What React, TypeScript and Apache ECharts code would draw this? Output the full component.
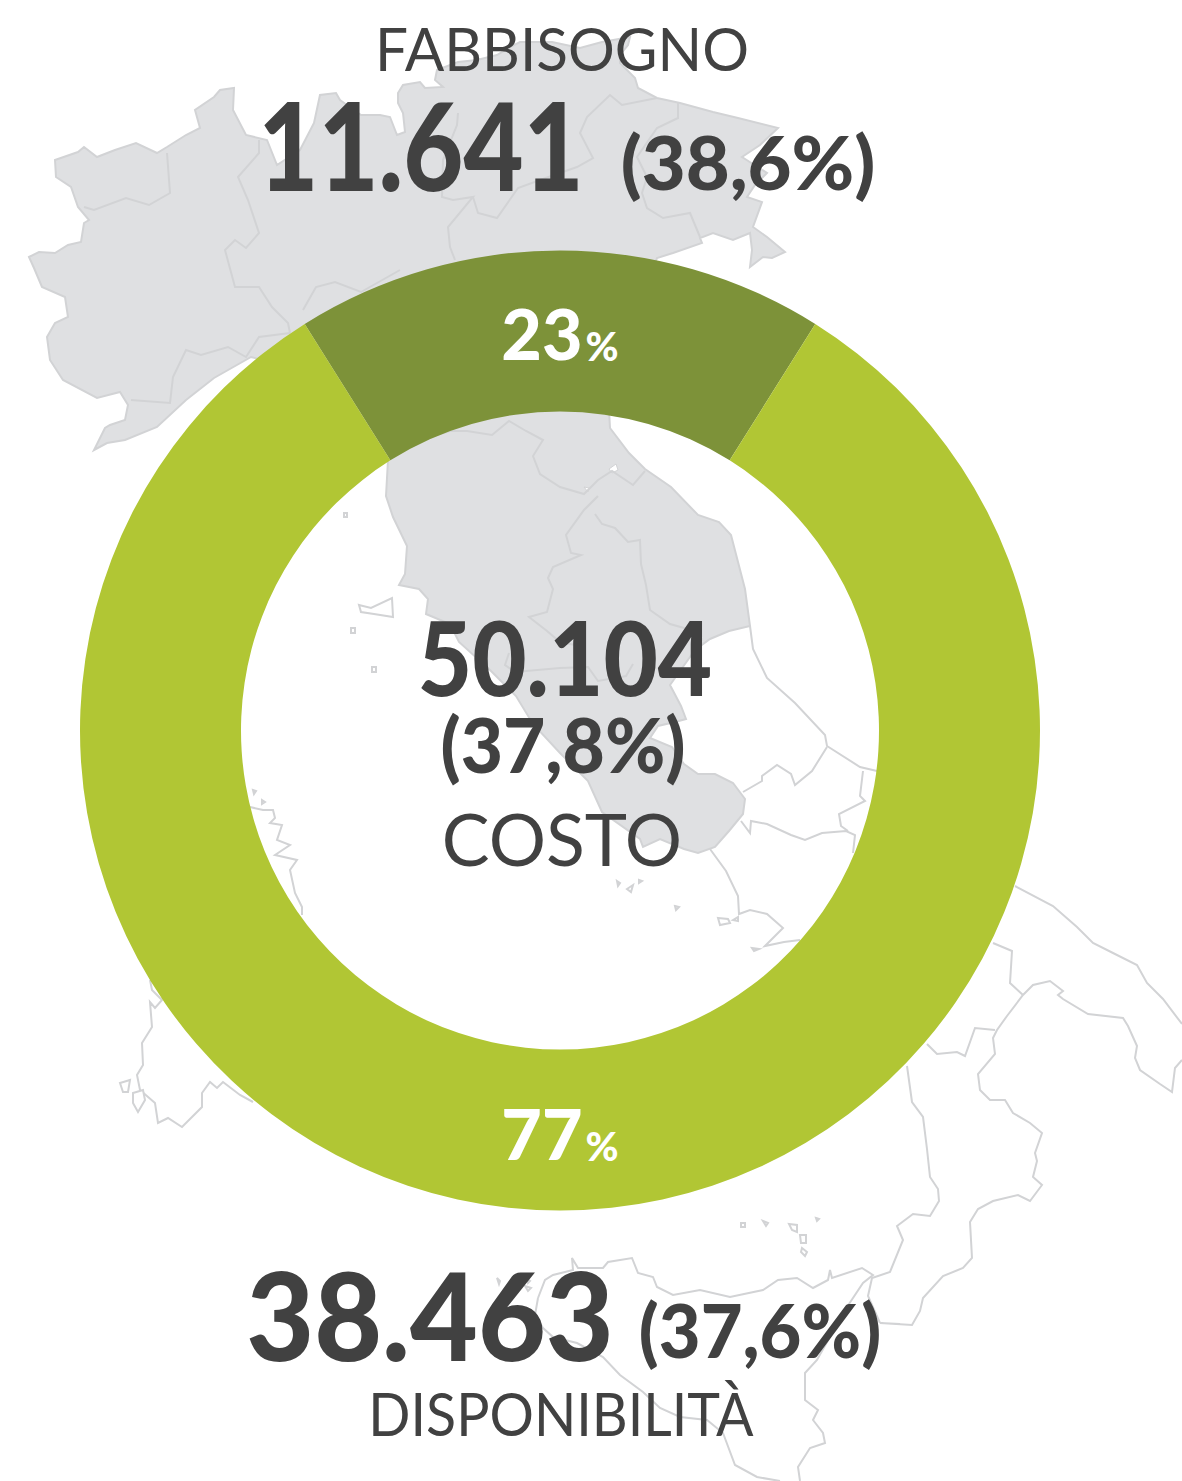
import React, { useEffect, useRef } from "react";
import * as echarts from "echarts";

// Values
const sliceNames = ["Fabbisogno", "Disponibilità"];
const sliceLabels = ["23", "77"];
// angular shares as drawn in the reference ring
const sliceShares = [17.85, 82.15];
const sliceColors = ["#7d9239", "#b1c634"];

const FONT = "Lato";
const INK = "#414141";
const LAND = "#dfe0e2";
const EDGE = "#d2d3d5";

type P = [number, number];

// Background map: shaded northern and central Italy
const mainland: P[] = [
  [29,257],[39,252],[55,253],[68,245],[81,242],[84,223],[89,220],[78,207],[71,187],[56,177],[55,160],[78,152],[84,147],[97,157],[115,150],[136,143],[157,153],[167,147],[186,135],[200,128],[195,110],[214,97],[220,90],[234,88],[233,110],[246,135],[267,140],[277,165],[300,150],[314,123],[320,95],[336,93],[340,100],[361,115],[380,115],[390,117],[397,135],[405,132],[403,113],[398,103],[398,93],[403,85],[420,82],[425,88],[443,87],[435,80],[437,70],[458,62],[477,60],[497,55],[510,47],[520,42],[552,42],[580,48],[602,42],[630,37],[628,45],[620,55],[620,63],[635,78],[638,88],[657,98],[680,103],[713,112],[738,118],[778,128],[760,145],[742,157],[767,173],[755,185],[747,197],[762,202],[753,227],[767,237],[785,252],[772,258],[763,257],[750,267],[752,250],[750,233],[733,240],[713,233],[700,238],[702,243],[673,253],[657,258],
  [640,300],[609,410],[610,428],[629,453],[645,469],[671,487],[698,515],[719,522],[731,535],[745,589],[750,626],[729,631],[710,639],[695,650],[670,685],[681,706],[686,719],[675,722],[658,726],[650,738],[672,747],[684,764],[698,774],[715,774],[733,783],[745,799],[743,814],[729,831],[715,847],[698,853],[684,849],[660,839],[643,847],[640,839],[602,812],[588,781],[560,753],[533,724],[516,696],[490,670],[459,642],[450,624],[426,614],[428,599],[419,589],[399,585],[405,574],[407,546],[393,517],[386,496],[388,460],
  [300,370],[251,357],[214,378],[186,400],[157,427],[125,440],[107,443],[94,450],[105,428],[110,425],[125,420],[128,405],[120,392],[97,398],[63,380],[50,360],[47,337],[55,323],[68,317],[65,297],[42,287],[34,268],
];

// Regional borders on the shaded part and outlines of the unshaded part
const mapLines: P[][] = [
  [[167,153],[170,193],[149,205],[126,198],[94,210],[84,207]],
  [[259,140],[259,153],[238,177],[248,200],[259,233],[246,248],[235,240],[225,250],[235,287],[259,287],[272,307],[288,323],[290,333]],
  [[290,333],[259,337],[246,357],[228,347],[201,355],[186,350],[173,377],[170,403],[131,400]],
  [[303,310],[316,287],[335,282],[361,292],[377,283],[400,270]],
  [[458,113],[457,125],[443,160],[442,197],[453,200],[473,197],[448,227],[450,247],[455,260]],
  [[473,197],[478,213],[497,218],[518,188],[540,180],[577,167],[593,158],[580,133],[587,117],[610,95],[622,105],[657,98]],
  [[678,103],[678,118],[657,128],[637,157],[647,177],[642,193],[647,208],[663,218],[690,213],[700,237]],
  [[430,437],[450,431],[467,431],[492,435],[509,421],[526,431],[543,440],[533,456],[540,474],[560,487],[584,494],[598,480],[612,471],[633,485],[645,471]],
  [[598,496],[584,510],[566,535],[571,553],[581,555],[553,567],[548,578],[553,589],[547,612],[529,617],[547,631],[560,642],[575,645]],
  [[595,514],[602,524],[615,528],[628,542],[640,540],[641,564],[646,585],[650,610],[670,624],[684,628],[700,640]],
  [[509,653],[505,665],[515,672],[560,668],[588,667],[598,681],[626,676],[633,664]],
  // Adriatic coast and Apulia
  [[750,626],[753,649],[767,678],[795,703],[825,735],[827,746],[860,767],[877,771]],
  [[1015,886],[1053,906],[1077,927],[1093,943],[1113,953],[1137,965],[1147,983],[1163,999],[1182,1024]],
  [[1182,1060],[1175,1068],[1172,1092],[1160,1084],[1140,1070],[1135,1058],[1137,1046],[1128,1026],[1123,1018],[1088,1014],[1063,999],[1058,995],[1063,991],[1050,981],[1033,985],[1023,995],[1007,1016],[997,1030],[993,1038],[995,1054],[978,1074],[980,1090],[990,1100],[1005,1100],[1013,1113],[1030,1123],[1042,1133],[1035,1153],[1037,1161],[1033,1177],[1042,1185],[1030,1201],[1018,1195],[993,1201],[978,1209],[970,1222],[972,1258],[963,1268],[943,1276],[923,1298],[920,1311],[912,1325],[880,1323],[900,1324]],
  [[880,1323],[868,1296],[872,1278],[890,1272],[903,1240],[897,1226],[913,1214],[930,1216],[939,1201],[938,1189],[930,1177],[927,1149],[923,1117],[912,1102],[907,1066]],
  [[927,1044],[937,1054],[957,1052],[965,1056],[975,1028],[995,1030]],
  [[993,943],[1012,951],[1010,983],[1023,995]],
  // Basilicata, Molise and Campania
  [[827,747],[812,771],[795,785],[791,774],[777,765],[762,776],[762,781],[743,792]],
  [[741,821],[750,833],[751,821],[767,824],[791,835],[805,840],[822,833],[846,831],[855,835],[853,853]],
  [[863,771],[860,796],[865,801],[839,814],[841,826],[848,831]],
  [[710,849],[726,871],[738,896],[739,914],[750,910],[767,914],[783,928],[765,946],[784,942],[800,940]],
  // Tuscan islands and Corsican fringe
  [[250,807],[263,810],[273,810],[275,818],[270,823],[282,825],[277,840],[290,845],[275,855],[297,860],[290,870],[295,893],[302,907],[302,915]],
  // Sardinia
  [[150,980],[152,990],[162,1000],[155,1008],[150,1002],[152,1027],[142,1043],[143,1065],[137,1075],[140,1090],[155,1103],[158,1123],[168,1118],[182,1127],[202,1107],[202,1093],[210,1082],[217,1088],[223,1082],[240,1095],[253,1102]],
  // Sicily
  [[538,1298],[545,1280],[553,1275],[573,1270],[572,1258],[578,1268],[603,1268],[608,1262],[632,1258],[638,1273],[653,1277],[657,1287],[673,1295],[700,1290],[730,1297],[763,1290],[778,1280],[797,1278],[813,1288],[828,1280],[830,1270],[832,1278],[862,1268],[873,1275],[863,1283],[845,1310],[817,1360],[805,1373],[805,1400],[818,1410],[813,1420],[823,1433],[825,1443],[810,1448],[798,1467],[800,1481]],
  [[538,1298],[535,1315],[543,1328],[553,1337],[577,1343],[603,1357],[620,1375],[643,1392],[660,1408],[680,1417],[707,1420],[723,1433],[735,1465],[757,1477],[780,1481]],
];

const islands: P[][] = [
  [[359,605],[371,608],[392,598],[393,617],[374,614],[361,612]],
  [[351,628],[355,628],[355,633],[351,633]],
  [[372,667],[376,667],[376,672],[372,672]],
  [[344,513],[347,513],[347,517],[344,517]],
  [[253,790],[256,791],[254,794]],
  [[262,800],[265,802],[262,804]],
  [[617,881],[620,883],[618,886]],
  [[627,889],[633,885],[631,892]],
  [[639,880],[642,881],[639,883]],
  [[675,906],[679,907],[676,910]],
  [[718,918],[728,919],[730,923],[720,925]],
  [[733,920],[738,917],[738,921]],
  [[752,948],[759,949],[754,951]],
  [[120,1083],[130,1080],[128,1092],[123,1092]],
  [[133,1093],[143,1090],[145,1100],[138,1112],[133,1103]],
  [[741,1223],[745,1223],[745,1227],[741,1227]],
  [[763,1221],[768,1223],[766,1226]],
  [[789,1224],[797,1225],[797,1232],[792,1230]],
  [[800,1235],[806,1235],[806,1243],[801,1243]],
  [[802,1248],[807,1252],[805,1256],[801,1252]],
  [[816,1218],[819,1219],[817,1221]],
  [[497,1278],[500,1281],[499,1284]],
  [[525,1286],[531,1288],[528,1291]],
  [[527,1279],[530,1281],[528,1283]],
];

const holes: P[][] = [
  [[609,469],[616,464],[618,470],[612,473]],
  [[584,487],[589,488],[588,492]],
];

// Text blocks: [text, centre x, centre y, size, weight, horizontal scale]
const titles: [string, number, number, number, number, number][] = [
  ["FABBISOGNO", 562, 48, 60, 400, 0.975],
  ["11.641", 421, 144, 122, 900, 0.85],
  ["(38,6%)", 748, 161, 74, 900, 1.025],
  ["50.104", 565, 656, 102, 900, 0.92],
  ["(37,8%)", 563, 743, 76, 900, 0.96],
  ["COSTO", 562, 838, 72, 400, 0.995],
  ["38.463", 430, 1314, 122, 900, 0.96],
  ["(37,6%)", 760, 1330, 74, 900, 0.975],
  ["DISPONIBILITÀ", 561, 1413, 60, 400, 0.925],
];

export default function App() {
  const ref = useRef<HTMLDivElement>(null);
  useEffect(() => {
    document.body.style.margin = "0";
    const chart = echarts.init(ref.current!, undefined, { renderer: "svg" });
    const elements: any[] = [
      { type: "polygon", z: 0, shape: { points: mainland }, style: { fill: LAND, stroke: EDGE, lineWidth: 2 }, silent: true },
      ...holes.map((points) => ({ type: "polygon", z: 0, shape: { points }, style: { fill: "#fff", stroke: EDGE, lineWidth: 1 }, silent: true })),
      ...mapLines.map((points) => ({ type: "polyline", z: 0, shape: { points }, style: { fill: "none", stroke: EDGE, lineWidth: 2 }, silent: true })),
      ...islands.map((points) => ({ type: "polygon", z: 0, shape: { points }, style: { fill: "#fff", stroke: EDGE, lineWidth: 2 }, silent: true })),
      ...titles.map(([text, x, y, size, weight, sx]) => ({
        type: "text", z: 10, x, y, scaleX: sx, silent: true,
        style: { text, fill: INK, fontFamily: FONT, fontSize: size, fontWeight: weight, lineHeight: Math.round(size * 0.78), align: "center", verticalAlign: "middle" },
      })),
    ];
    chart.setOption({
      animation: false,
      backgroundColor: "#ffffff",
      graphic: { elements },
      series: [{
        type: "pie",
        z: 2,
        center: [560, 730.5],
        radius: [319, 480],
        startAngle: 90 + (sliceShares[0] / 100) * 180,
        silent: true,
        itemStyle: { borderWidth: 0 },
        data: sliceNames.map((name, i) => ({
          name,
          value: sliceShares[i],
          itemStyle: { color: sliceColors[i] },
          label: {
            formatter: `{n|${sliceLabels[i]}}{p|%}`,
            padding: i === 0 ? [10, 0, 0, 0] : [0, 0, 0, 0],
          },
        })),
        label: {
          show: true,
          position: "inside",
          rich: {
            n: { fontFamily: FONT, fontSize: 70, fontWeight: 900, color: "#fff", verticalAlign: "bottom" },
            p: { fontFamily: FONT, fontSize: 40, fontWeight: 900, color: "#fff", verticalAlign: "bottom", padding: [0, 0, 2, 3] },
          },
        },
        labelLine: { show: false },
      }],
    });
    return () => chart.dispose();
  }, []);
  return <div ref={ref} style={{ position: "absolute", left: 0, top: 0, width: 1182, height: 1481 }} />;
}
